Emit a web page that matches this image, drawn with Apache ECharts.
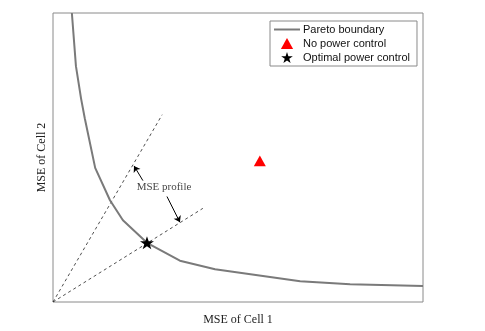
<!DOCTYPE html>
<html>
<head>
<meta charset="utf-8">
<script src="https://cdn.jsdelivr.net/npm/echarts@6/dist/echarts.min.js"></script>
<style>html,body{margin:0;padding:0;background:#fff}#c{width:485px;height:331px}</style>
</head>
<body>
<div id="c"></div>
<script>
// Pareto boundary (MSE of Cell 1, MSE of Cell 2), normalized units
var paretoX = [0.051, 0.062, 0.076, 0.086, 0.114, 0.154, 0.189, 0.254, 0.343, 0.438, 0.668, 0.803, 1.0];
var paretoY = [1.0, 0.816, 0.703, 0.635, 0.464, 0.352, 0.283, 0.205, 0.143, 0.113, 0.072, 0.061, 0.055];
var noPowerControl = [0.559, 0.488];
var optimalPowerControl = [0.254, 0.205];
// MSE profile rays from the origin
var rayOrigin = [0, 0];
var ray1End = [0.295, 0.648];
var ray2End = [0.405, 0.324];
// annotation
var annotText = 'MSE profile';
var annotPos = [0.300, 0.396];
var arrow1 = [[0.243, 0.420], [0.219, 0.471]];
var arrow2 = [[0.308, 0.365], [0.343, 0.276]];
var legendNames = ['Pareto boundary', 'No power control', 'Optimal power control'];

var starPath = 'path://M50,0 L61.8,35.3 L98.9,35.3 L68.9,57.1 L80.3,92.4 L50,70.6 L19.7,92.4 L31.1,57.1 L1.1,35.3 L38.2,35.3 Z';
var triPath = 'path://M50,0 L100,90 L0,90 Z';
var linePath = 'path://M0,0 L260,0 L260,20 L0,20 Z';

var chart = echarts.init(document.getElementById('c'));
var pareto = paretoX.map(function (x, i) { return [x, paretoY[i]]; });
var serif = '"Liberation Serif", "Times New Roman", serif';
var sans = '"Liberation Sans", Arial, sans-serif';

chart.setOption({
  animation: false,
  backgroundColor: '#fff',
  grid: { left: 53, right: 62, top: 13, bottom: 25, show: true, borderColor: '#8a8a8a', borderWidth: 1 },
  xAxis: {
    type: 'value', min: 0, max: 1,
    name: 'MSE of Cell 1', nameLocation: 'middle', nameGap: 12,
    nameTextStyle: { fontFamily: serif, fontSize: 12, color: '#222' },
    axisLine: { show: false }, axisTick: { show: false }, axisLabel: { show: false }, splitLine: { show: false }
  },
  yAxis: {
    type: 'value', min: 0, max: 1,
    name: 'MSE of Cell 2', nameLocation: 'middle', nameGap: 5,
    nameTextStyle: { fontFamily: serif, fontSize: 12, color: '#222' },
    axisLine: { show: false }, axisTick: { show: false }, axisLabel: { show: false }, splitLine: { show: false }
  },
  legend: {
    orient: 'vertical', left: 270, top: 21,
    symbolKeepAspect: true,
    data: [
      { name: legendNames[0], icon: linePath },
      { name: legendNames[1], icon: triPath },
      { name: legendNames[2], icon: starPath }
    ],
    itemWidth: 26, itemHeight: 11, itemGap: 3,
    padding: [3, 7, 3, 4],
    borderColor: '#8a8a8a', borderWidth: 1, borderRadius: 0,
    textStyle: { fontFamily: sans, fontSize: 11, color: '#111', padding: [0, 0, 0, -2] }
  },
  series: [
    {
      name: legendNames[0], type: 'line', data: pareto, showSymbol: false, symbol: 'none',
      lineStyle: { color: '#7a7a7a', width: 2 }, itemStyle: { color: '#7a7a7a' }, z: 3
    },
    {
      name: 'ray1', type: 'line', data: [rayOrigin, ray1End], symbol: 'none',
      lineStyle: { color: '#222', width: 0.8, type: [3, 3] }, z: 2
    },
    {
      name: 'ray2', type: 'line', data: [rayOrigin, ray2End], symbol: 'none',
      lineStyle: { color: '#222', width: 0.8, type: [3, 3] }, z: 2
    },
    {
      name: legendNames[1], type: 'scatter', data: [noPowerControl], symbol: triPath,
      symbolSize: 12, symbolKeepAspect: true, itemStyle: { color: '#ff0000', opacity: 1 }, z: 5
    },
    {
      name: legendNames[2], type: 'scatter', data: [optimalPowerControl], symbol: starPath,
      symbolSize: 14, symbolKeepAspect: true, itemStyle: { color: '#000', opacity: 1 }, z: 5
    },
    {
      name: 'arrows', type: 'lines', coordinateSystem: 'cartesian2d',
      data: [{ coords: arrow1 }, { coords: arrow2 }],
      symbol: ['none', 'arrow'], symbolSize: 6,
      lineStyle: { color: '#000', width: 1, opacity: 1 }, z: 4
    },
    {
      name: 'annot', type: 'scatter', data: [annotPos], symbolSize: 0,
      label: { show: true, position: 'inside', formatter: annotText, fontFamily: serif, fontSize: 11, color: '#111' },
      silent: true, z: 6
    }
  ]
});
</script>
</body>
</html>
